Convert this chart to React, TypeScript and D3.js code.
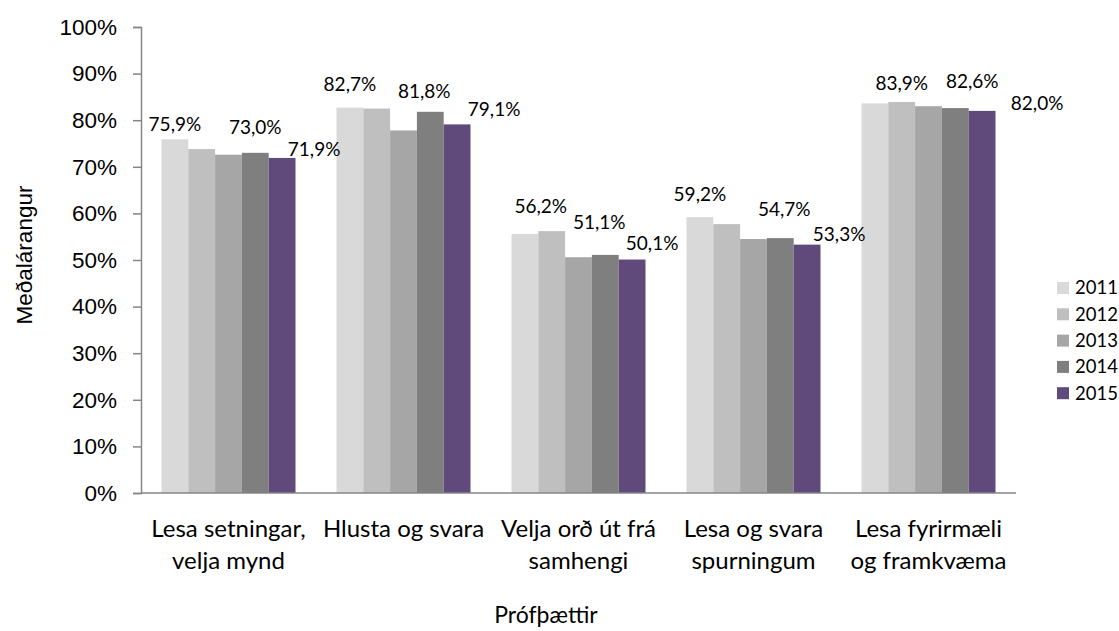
import React, { useEffect, useRef } from "react";
import * as d3 from "d3";

// categories (two lines each, as wrapped in the original)
const categories = [
  ["Lesa setningar,", "velja mynd"],
  ["Hlusta og svara"],
  ["Velja orð út frá", "samhengi"],
  ["Lesa og svara", "spurningum"],
  ["Lesa fyrirmæli", "og framkvæma"],
];
const years = ["2011", "2012", "2013", "2014", "2015"];

const v2011 = [75.9, 82.7, 55.6, 59.2, 83.6];
const v2012 = [73.8, 82.5, 56.2, 57.7, 83.9];
const v2013 = [72.6, 77.8, 50.6, 54.5, 83.0];
const v2014 = [73.0, 81.8, 51.1, 54.7, 82.6];
const v2015 = [71.9, 79.1, 50.1, 53.3, 82.0];
const series = [v2011, v2012, v2013, v2014, v2015];

// which bar of each group carries a value label
const labelledSeries = [
  [0, 3, 4],
  [0, 3, 4],
  [1, 3, 4],
  [0, 3, 4],
  [1, 3, 4],
];

const colors = ["#d9d9d9", "#bfbfbf", "#a6a6a6", "#7f7f7f", "#604a7b"];

// label nudges (dx, height above bar top) - labels were dragged around in the original
const labelNudges = [
  [[0, 15], [0, 25], [32, 9]],
  [[0, 23], [-6, 20], [37, 15]],
  [[-11, 25], [-6, 33], [20, 16]],
  [[0, 23], [4, 29], [32, 10]],
  [[0, 19], [17, 27], [55, 8]],
];

const W = 1119;
const H = 631;
const calibri = "Lato, 'Open Sans', sans-serif";
const arial = "'Liberation Sans', Arial, sans-serif";

const isl = d3.formatLocale({
  decimal: ",",
  thousands: ".",
  grouping: [3],
  currency: ["", ""],
});
const fmtVal = (v: number) => isl.format(".1f")(v) + "%";

export default function App() {
  const svgRef = useRef<SVGSVGElement>(null);

  useEffect(() => {
    document.body.style.margin = "0";
    const svg = d3.select(svgRef.current);
    svg.selectAll("*").remove();

    const left = 141;
    const right = 1016;
    const top = 27;
    const bottom = 493;

    const y = d3.scaleLinear().domain([0, 100]).range([bottom, top]);
    const x0 = d3
      .scaleBand<number>()
      .domain(categories.map((_, i) => i))
      .range([left, right]);
    const x1 = d3
      .scaleBand<number>()
      .domain(years.map((_, i) => i))
      .range([0, x0.bandwidth()])
      .paddingInner(0)
      .paddingOuter(0.765);

    // bars
    const groups = svg
      .append("g")
      .selectAll("g")
      .data(categories)
      .join("g")
      .attr("transform", (_, i) => `translate(${x0(i)},0)`);

    groups
      .selectAll("rect")
      .data((_, gi) => series.map((s, si) => ({ si, v: s[gi] })))
      .join("rect")
      .attr("x", (d) => x1(d.si)!)
      .attr("width", x1.bandwidth())
      .attr("y", (d) => y(d.v))
      .attr("height", (d) => y(0) - y(d.v))
      .attr("fill", (d) => colors[d.si]);

    // y axis
    const yAxis = svg
      .append("g")
      .attr("transform", `translate(${left},0)`)
      .call(
        d3
          .axisLeft(y)
          .tickValues(d3.range(0, 101, 10))
          .tickSize(8)
          .tickPadding(16)
          .tickFormat((d) => `${d}%`)
      );
    yAxis.select(".domain").attr("stroke", "#868686").attr("stroke-width", 1.5);
    yAxis.selectAll(".tick line").attr("stroke", "#868686").attr("stroke-width", 1.5);
    yAxis
      .selectAll(".tick text")
      .attr("font-family", arial)
      .attr("font-size", 22.5)
      .attr("fill", "#000");

    // x axis baseline
    svg
      .append("line")
      .attr("x1", left)
      .attr("x2", right)
      .attr("y1", bottom)
      .attr("y2", bottom)
      .attr("stroke", "#868686")
      .attr("stroke-width", 1.5);

    // category labels
    categories.forEach((lines, i) => {
      const cx = x0(i)! + x0.bandwidth() / 2;
      const t = svg
        .append("text")
        .attr("text-anchor", "middle")
        .attr("font-family", calibri)
        .attr("font-size", 24)
        .attr("fill", "#000");
      lines.forEach((ln, li) => {
        t.append("tspan")
          .attr("x", cx)
          .attr("y", bottom + 44 + li * 32)
          .text(ln);
      });
    });

    // value labels
    labelledSeries.forEach((sIdx, gi) => {
      sIdx.forEach((si, k) => {
        const [dx, up] = labelNudges[gi][k];
        const v = series[si][gi];
        svg
          .append("text")
          .attr("x", x0(gi)! + x1(si)! + x1.bandwidth() / 2 + dx)
          .attr("y", y(v) - up)
          .attr("dy", "0.35em")
          .attr("text-anchor", "middle")
          .attr("font-family", calibri)
          .attr("font-size", 19)
          .attr("fill", "#000")
          .text(fmtVal(v));
      });
    });

    // axis titles
    svg
      .append("text")
      .attr("transform", `translate(24,255) rotate(-90)`)
      .attr("text-anchor", "middle")
      .attr("dy", "0.35em")
      .attr("font-family", arial)
      .attr("font-size", 22.5)
      .attr("fill", "#000")
      .text("Meðalárangur");

    svg
      .append("text")
      .attr("x", 546)
      .attr("y", 615)
      .attr("dy", "0.35em")
      .attr("text-anchor", "middle")
      .attr("font-family", calibri)
      .attr("font-size", 23)
      .attr("fill", "#000")
      .text("Prófþættir");

    // legend
    const lg = svg
      .append("g")
      .selectAll("g")
      .data(years)
      .join("g")
      .attr("transform", (_, i) => `translate(1057,${288 + i * 26.3})`);
    lg.append("rect")
      .attr("x", 0)
      .attr("y", -6)
      .attr("width", 12)
      .attr("height", 12)
      .attr("fill", (_, i) => colors[i]);
    lg.append("text")
      .attr("x", 18)
      .attr("dy", "0.35em")
      .attr("font-family", calibri)
      .attr("font-size", 18.5)
      .attr("fill", "#000")
      .text((d) => d);
  }, []);

  return (
    <svg
      ref={svgRef}
      width={W}
      height={H}
      style={{ display: "block", background: "#fff" }}
    />
  );
}
